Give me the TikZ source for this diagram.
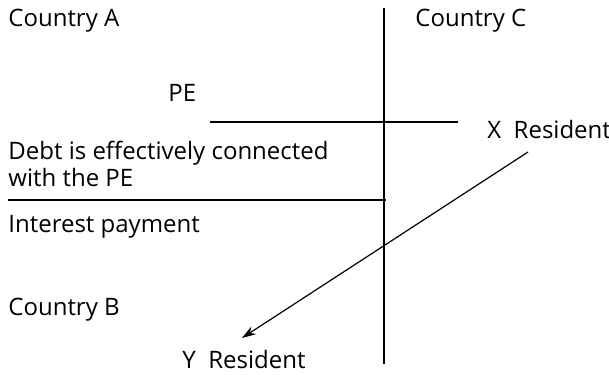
\documentclass[tikz,border=0pt]{standalone}
\usepackage{fontspec}
\setmainfont{Open Sans}
\usetikzlibrary{arrows.meta}

\tikzset{
  lbl/.style={anchor=base west, inner sep=0pt, font=\fontsize{12}{14}\selectfont},
  rule/.style={line width=0.6pt},
}

\begin{document}
\begin{tikzpicture}[x=0.5pt,y=-0.5pt]
		\useasboundingbox (0,0) rectangle (609,374);
		\node[lbl] (ctryA) at (8,27) {Country A};
		\node[lbl] (ctryC) at (415,27) {Country C};
		\node[lbl] (pe) at (168,102) {PE};
		\node[lbl] (xres) at (487,138) {X\ \ Resident};
		\node[lbl] (debt1) at (8,159) {Debt is effectively connected};
		\node[lbl] (debt2) at (8,186) {with the PE};
		\node[lbl] (interest) at (8,232) {Interest payment};
		\node[lbl] (ctryB) at (8,315) {Country B};
		\node[lbl] (yres) at (182,368) {Y\ \ Resident};
		% border between the countries
		\draw[rule] (384,8) -- (384,364);
		\draw[rule] (210,122) -- (458,122);
		\draw[rule] (8,200) -- (386,200);
		% payment
		\coordinate (from) at (528,152);
		\coordinate (to) at (242,338);
		\draw[rule,-{Stealth[length=7pt,width=4.5pt]}] (from) -- (to);
\end{tikzpicture}
\end{document}
